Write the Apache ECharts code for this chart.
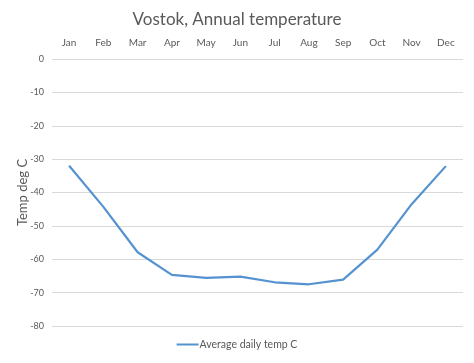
<!DOCTYPE html>
<html><head><meta charset="utf-8">
<script src="https://cdn.jsdelivr.net/npm/echarts@6/dist/echarts.min.js"></script>
<style>html,body{margin:0;padding:0;background:#fff}#c{width:474px;height:363px}</style>
</head><body><div id="c"></div>
<script>
const months = ['Jan','Feb','Mar','Apr','May','Jun','Jul','Aug','Sep','Oct','Nov','Dec'];
const avgTemp = [-32.0, -44.3, -57.9, -64.7, -65.6, -65.2, -66.9, -67.5, -66.1, -57.1, -43.5, -32.1];
const seriesName = 'Average daily temp C';
const chart = echarts.init(document.getElementById('c'), null, {renderer:'canvas'});
const FONT = 'Lato';
chart.setOption({
  animation:false,
  backgroundColor:'#fff',
  title:{text:'Vostok, Annual temperature', left:'center', top:6,
    textStyle:{fontFamily:FONT, fontSize:17, fontWeight:'normal', color:'#595959'}},
  grid:{left:52, right:11, top:59, bottom:37},
  legend:{bottom:8, left:'center', itemWidth:22, itemHeight:2, icon:'rect', itemGap:4,
    textStyle:{fontFamily:FONT, fontSize:10.5, color:'#595959', padding:[0,0,0,-4]},
    data:[seriesName]},
  xAxis:{type:'category', position:'top', data:months, boundaryGap:true,
    axisLine:{show:false}, axisTick:{show:false},
    axisLabel:{fontFamily:FONT, fontSize:10, color:'#595959', margin:11}},
  yAxis:{type:'value', min:-80, max:0, interval:10,
    name:'Temp deg C', nameLocation:'middle', nameGap:23, nameRotate:90,
    nameMoveOverlap:false,
    nameTextStyle:{fontFamily:FONT, fontSize:13, color:'#595959'},
    axisLine:{show:false}, axisTick:{show:false},
    axisLabel:{fontFamily:FONT, fontSize:9, color:'#595959', margin:8},
    splitLine:{lineStyle:{color:'#d9d9d9', width:1}}},
  series:[{name:seriesName, type:'line', data:avgTemp, symbol:'none',
    lineStyle:{color:'#5593d0', width:2.2}, itemStyle:{color:'#5593d0'}}]
});
</script></body></html>
